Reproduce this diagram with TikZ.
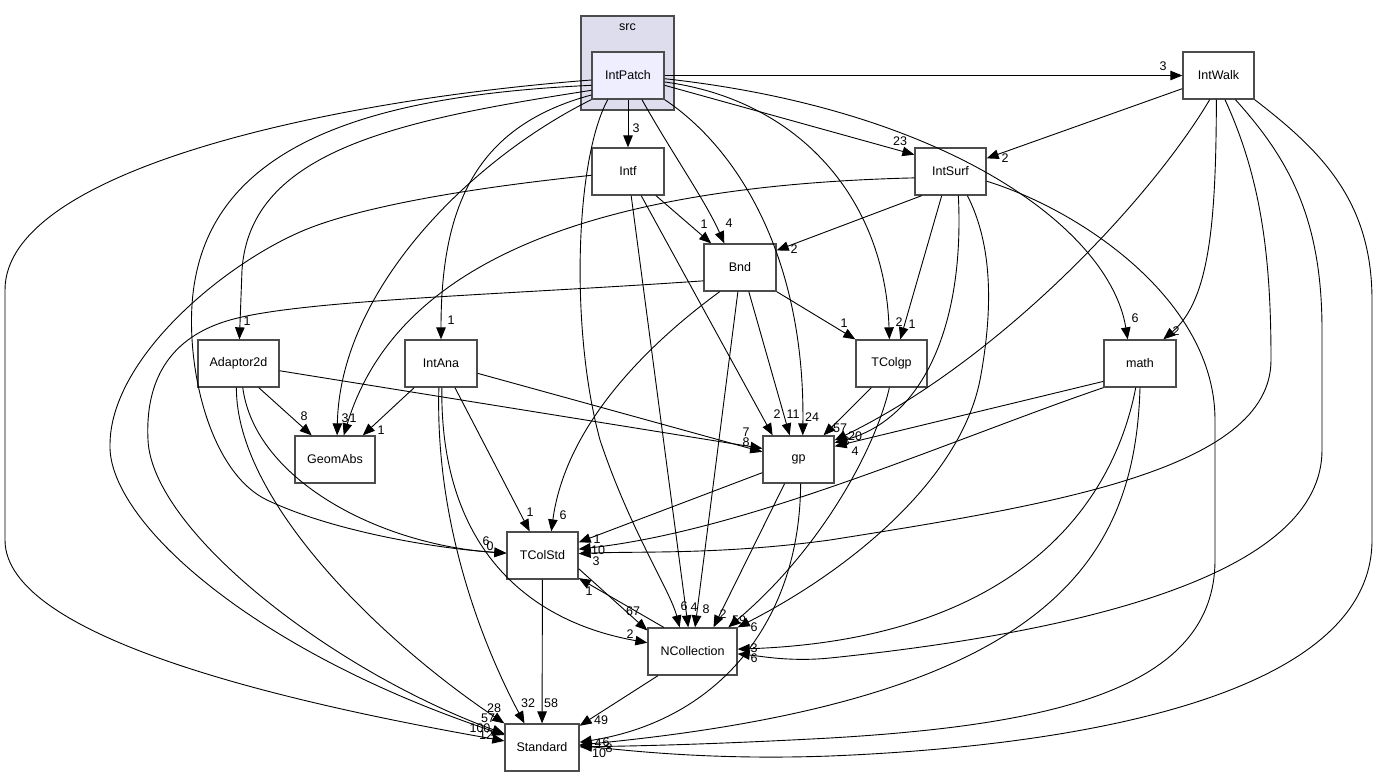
\documentclass[tikz,border=0pt]{standalone}
\usepackage{fontspec}
\setmainfont{Liberation Sans}
\usepackage{tikz}
\usetikzlibrary{arrows.meta}
\usetikzlibrary{positioning}

\begin{document}
\begin{tikzpicture}[
  x=1pt, y=-1pt,
  dir/.style={draw=black!70, line width=1.3pt, fill=white, minimum height=47pt,
    inner sep=0pt, font=\fontsize{12.5}{15}\selectfont},
  dep/.style={draw=black, line width=0.9pt, -{Triangle[length=12pt, width=9.5pt]}},
  lbl/.style={inner sep=0pt, font=\fontsize{12.5}{15}\selectfont},
]
\useasboundingbox (0,0) rectangle (1376,777);

% Cluster
\draw[draw=black!70, line width=1.3pt, fill={rgb,255:red,221;green,221;blue,238}] (581,16) rectangle (674,110);
\node[lbl] (src) at (627.5,27) {src};

% Nodes - top
\node[dir, minimum width=72pt, fill={rgb,255:red,238;green,238;blue,255}] (IntPatch) at (628,75.5) {IntPatch};
\node[dir, minimum width=71pt] (IntWalk) at (1218.5,75.5) {IntWalk};
\node[dir, minimum width=72pt] (Intf) at (628,171.5) {Intf};
\node[dir, minimum width=71pt] (IntSurf) at (950.5,171.5) {IntSurf};
\node[dir, minimum width=72pt] (Bnd) at (740,267.5) {Bnd};

% Nodes - middle
\node[dir, minimum width=81pt] (Adaptor2d) at (238.5,363.5) {Adaptor2d};
\node[dir, minimum width=72pt] (IntAna) at (441,363.5) {IntAna};
\node[dir, minimum width=71pt] (TColgp) at (891.5,363.5) {TColgp};
\node[dir, minimum width=72pt] (math) at (1140,363.5) {math};
\node[dir, minimum width=80pt] (GeomAbs) at (335,459.5) {GeomAbs};
\node[dir, minimum width=71pt] (gp) at (798.5,459.5) {gp};

% Nodes - bottom
\node[dir, minimum width=71pt] (TColStd) at (542.5,555.5) {TColStd};
\node[dir, minimum width=89pt] (NCollection) at (692.5,651.5) {NCollection};
\node[dir, minimum width=74pt] (Standard) at (542,747.5) {Standard};

% Edges from IntPatch
\draw[dep] (IntPatch) -- (IntWalk);
\draw[dep] (IntPatch) -- (Intf);
\draw[dep] (IntPatch.-15) -- (IntSurf.155);
\draw[dep] (IntPatch.-60) .. controls (670,150) and (705,200) .. (Bnd.123);
\draw[dep] (IntPatch.202) .. controls (400,120) and (250,150) .. (242,270) -- (Adaptor2d);
\draw[dep] (IntPatch.208) .. controls (480,125) and (441,200) .. (IntAna);
\draw[dep] (IntPatch.south west) .. controls (470,160) and (340,290) .. (GeomAbs.85);
\draw[dep] (IntPatch.-10) .. controls (800,100) and (885,200) .. (TColgp.95);
\draw[dep] (IntPatch.-5) .. controls (950,110) and (1110,230) .. (math.117);
\draw[dep] (IntPatch.south east) .. controls (740,150) and (805,260) .. (gp.80);
\draw[dep] (IntPatch.195) .. controls (380,95) and (220,140) .. (195,280)
  .. controls (182,350) and (205,470) .. (267,500) .. controls (330,530) and (430,548) .. (TColStd);
\draw[dep] (IntPatch.-130) .. controls (575,160) and (570,330) .. (600,440)
  .. controls (630,530) and (670,590) .. (NCollection.118);
\draw[dep] (IntPatch.187) .. controls (330,100) and (5,170) .. (5,290) -- (5,540)
  .. controls (5,640) and (300,705) .. (Standard);

% Edges from Intf
\draw[dep] (Intf) -- (Bnd.140);
\draw[dep] (Intf) -- (gp.137);
\draw[dep] (Intf) -- (NCollection.100);
\draw[dep] (Intf) .. controls (450,190) and (350,210) .. (300,232)
  .. controls (220,267) and (110,360) .. (110,445) .. controls (108,520) and (250,650) .. (Standard);

% Edges from IntWalk
\draw[dep] (IntWalk.200) -- (IntSurf.20);
\draw[dep] (IntWalk.-110) .. controls (1150,200) and (1000,360) .. (gp.28);
\draw[dep] (IntWalk.-95) .. controls (1216,220) and (1210,300) .. (math.46);
\draw[dep] (IntWalk.-75) .. controls (1262,180) and (1271,260) .. (1271,360)
  .. controls (1271,470) and (1050,505) .. (830,540) .. controls (720,555) and (640,551) .. (TColStd.3);
\draw[dep] (IntWalk.-55) .. controls (1290,160) and (1322,220) .. (1322,330) -- (1322,450)
  .. controls (1322,570) and (1100,630) .. (830,658) .. controls (790,662) and (760,656) .. (NCollection.-3);
\draw[dep] (IntWalk.south east) .. controls (1320,150) and (1372,200) .. (1372,300) -- (1372,540)
  .. controls (1372,690) and (1100,745) .. (830,756) .. controls (720,760) and (640,752) .. (Standard.3);

% Edges from IntSurf
\draw[dep] (IntSurf.190) .. controls (620,185) and (400,250) .. (GeomAbs.70);
\draw[dep] (IntSurf.220) -- (Bnd.25);
\draw[dep] (IntSurf.-110) -- (TColgp.70);
\draw[dep] (IntSurf.-72) .. controls (965,330) and (920,420) .. (gp.25);
\draw[dep] (IntSurf.-55) .. controls (990,240) and (995,300) .. (980,380)
  .. controls (960,480) and (850,570) .. (NCollection.north east);
\draw[dep] (IntSurf.-15) .. controls (1080,210) and (1215,300) .. (1215,420) -- (1215,560)
  .. controls (1215,690) and (1050,725) .. (830,738) .. controls (700,745) and (630,746) .. (Standard.1);

% Edges from Bnd
\draw[dep] (Bnd.south east) -- (TColgp.north west);
\draw[dep] (Bnd.-70) -- (gp.110);
\draw[dep] (Bnd.-130) .. controls (640,350) and (565,430) .. (TColStd.70);
\draw[dep] (Bnd.-95) -- (NCollection.84);
\draw[dep] (Bnd.200) .. controls (500,295) and (300,300) .. (230,320)
  .. controls (170,337) and (145,380) .. (148,440) .. controls (152,530) and (330,670) .. (Standard);

% Edges from Adaptor2d
\draw[dep] (Adaptor2d.-50) -- (GeomAbs.134);
\draw[dep] (Adaptor2d.-10) -- (gp.163);
\draw[dep] (Adaptor2d.-80) .. controls (255,480) and (380,545) .. (TColStd);
\draw[dep] (Adaptor2d.-95) .. controls (236,500) and (380,640) .. (Standard.north west);

% Edges from IntAna
\draw[dep] (IntAna.-138) -- (GeomAbs.41);
\draw[dep] (IntAna.-15) -- (gp.168);
\draw[dep] (IntAna.-60) -- (TColStd.118);
\draw[dep] (IntAna.-88) .. controls (440,540) and (520,620) .. (NCollection.169);
\draw[dep] (IntAna.-95) .. controls (435,520) and (480,640) .. (Standard.126);

% Edges from TColgp
\draw[dep] (TColgp.-130) -- (gp.44);
\draw[dep] (TColgp.-95) .. controls (875,450) and (820,550) .. (NCollection.34);

% Edges from math
\draw[dep] (math.206) -- (gp.20);
\draw[dep] (math.south west) .. controls (950,440) and (750,530) .. (TColStd.10);
\draw[dep] (math.-100) .. controls (1110,520) and (1000,640) .. (NCollection.3);
\draw[dep] (math.-90) .. controls (1135,560) and (1050,700) .. (Standard.4);

% Edges from gp
\draw[dep] (gp.200) -- (TColStd.20);
\draw[dep] (gp.-120) -- (NCollection.49);
\draw[dep] (gp.-85) .. controls (800,620) and (720,720) .. (Standard.8);

% Edges between TColStd, NCollection, Standard
\draw[dep] (TColStd.-20) -- (NCollection.155);
\draw[dep] (NCollection.140) -- (TColStd.-32);
\draw[dep] (TColStd) -- (Standard);
\draw[dep] (NCollection.-145) -- (Standard.30);

% Edge labels
\node[lbl] (l1) at (1163,66) {3};
\node[lbl] (l2) at (636,128) {3};
\node[lbl] (l3) at (900,141) {23};
\node[lbl] (l4) at (729,223) {4};
\node[lbl] (l5) at (704,224) {1};
\node[lbl] (l6) at (247,321) {1};
\node[lbl] (l7) at (451,320) {1};
\node[lbl] (l8) at (345,418) {3};
\node[lbl] (l9) at (353,418) {1};
\node[lbl] (l10) at (381,430) {1};
\node[lbl] (l11) at (304,416) {8};
\node[lbl] (l12) at (899,322) {2};
\node[lbl] (l13) at (912,324) {1};
\node[lbl] (l14) at (844,323) {1};
\node[lbl] (l15) at (1135,318) {6};
\node[lbl] (l16) at (1176,331) {2};
\node[lbl] (l17) at (1005,158) {2};
\node[lbl] (l18) at (794,249) {2};
\node[lbl] (l19) at (777,414) {2};
\node[lbl] (l20) at (793,414) {11};
\node[lbl] (l21) at (812,417) {24};
\node[lbl] (l22) at (840,428) {57};
\node[lbl] (l23) at (855,436) {20};
\node[lbl] (l24) at (846,441) {8};
\node[lbl] (l25) at (855,451) {4};
\node[lbl] (l26) at (746,432) {7};
\node[lbl] (l27) at (746,442) {8};
\node[lbl] (l28) at (530,512) {1};
\node[lbl] (l29) at (563,515) {6};
\node[lbl] (l30) at (486,541) {6};
\node[lbl] (l31) at (490,546) {0};
\node[lbl] (l32) at (597,539) {1};
\node[lbl] (l33) at (598,550) {10};
\node[lbl] (l34) at (596,561) {3};
\node[lbl] (l35) at (589,591) {1};
\node[lbl] (l36) at (633,611) {67};
\node[lbl] (l37) at (630,634) {2};
\node[lbl] (l38) at (684,606) {6};
\node[lbl] (l39) at (694,607) {4};
\node[lbl] (l40) at (706,609) {8};
\node[lbl] (l41) at (723,614) {2};
\node[lbl] (l42) at (739,620) {59};
\node[lbl] (l43) at (754,627) {6};
\node[lbl] (l44) at (754,648) {3};
\node[lbl] (l45) at (754,658) {6};
\node[lbl] (l46) at (494,708) {28};
\node[lbl] (l47) at (528,703) {32};
\node[lbl] (l48) at (551,703) {58};
\node[lbl] (l49) at (601,720) {49};
\node[lbl] (l50) at (488,718) {57};
\node[lbl] (l51) at (480,728) {100};
\node[lbl] (l52) at (486,735) {12};
\node[lbl] (l53) at (598,743) {4};
\node[lbl] (l54) at (606,742) {6};
\node[lbl] (l55) at (609,748) {8};
\node[lbl] (l56) at (599,753) {10};
\end{tikzpicture}
\end{document}
